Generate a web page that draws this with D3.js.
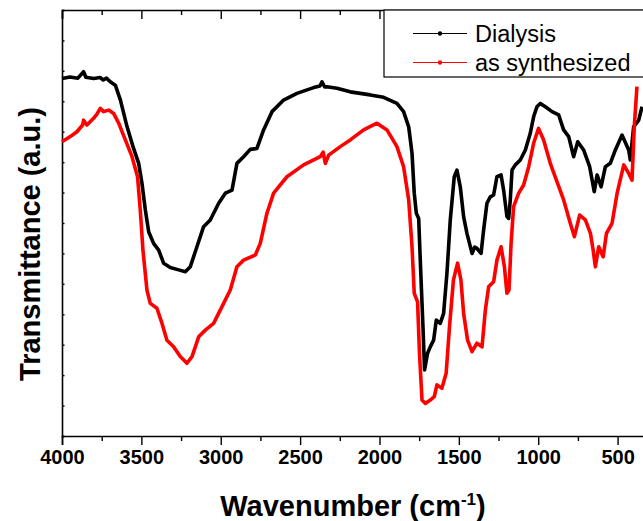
<!DOCTYPE html>
<html>
<head>
<meta charset="utf-8">
<script src="https://cdn.jsdelivr.net/npm/d3@7"></script>
<style>
  body { margin: 0; background: #fff; }
  svg { display: block; font-family: "Liberation Sans", Arial, sans-serif; }
</style>
</head>
<body>
<div id="chart-area"></div>
<script>
// FTIR spectra, transmittance in arbitrary units (0-140 scale)
const dialysisWn = [4000, 3950, 3900, 3864, 3850, 3800, 3760, 3740, 3720, 3696, 3664, 3632, 3590, 3549, 3517, 3496, 3475, 3454, 3423, 3391, 3360, 3318, 3265, 3223, 3192, 3150, 3108, 3066, 3013, 2971, 2929, 2898, 2856, 2814, 2772, 2730, 2677, 2604, 2520, 2415, 2375, 2362, 2345, 2331, 2268, 2184, 2058, 1974, 1890, 1848, 1816, 1795, 1781, 1768, 1753, 1743, 1726, 1716, 1697, 1680, 1659, 1642, 1617, 1596, 1575, 1554, 1529, 1512, 1491, 1470, 1449, 1417, 1400, 1386, 1360, 1344, 1323, 1302, 1281, 1260, 1234, 1218, 1197, 1186, 1176, 1165, 1144, 1113, 1081, 1050, 1029, 1008, 987, 955, 913, 871, 840, 808, 777, 751, 714, 676, 647, 629, 604, 577, 546, 514, 472, 430, 420, 399, 367, 346];
const dialysisT = [117.5, 118.0, 117.6, 119.7, 117.9, 117.5, 117.8, 117.0, 117.6, 116.4, 115.3, 110.4, 101.6, 94.5, 89.6, 83.0, 74.3, 67.1, 63.3, 61.1, 56.8, 55.4, 54.6, 54.0, 55.6, 62.2, 68.8, 71.0, 76.5, 79.8, 80.8, 89.6, 91.8, 94.2, 94.5, 100.6, 106.6, 110.4, 112.6, 114.5, 115.0, 116.4, 114.7, 114.8, 114.3, 113.1, 112.1, 111.3, 109.3, 106.6, 101.6, 92.9, 79.8, 73.2, 71.5, 57.8, 35.9, 21.7, 27.2, 29.3, 31.5, 38.1, 37.0, 40.3, 53.5, 71.0, 85.2, 87.4, 81.9, 72.1, 66.6, 60.0, 62.1, 61.7, 60.0, 67.7, 76.5, 78.6, 79.2, 85.2, 85.8, 80.8, 72.1, 71.5, 77.6, 87.4, 89.1, 90.7, 94.0, 99.5, 104.9, 108.2, 109.3, 108.2, 106.6, 105.5, 100.6, 98.4, 91.8, 96.7, 94.0, 88.5, 80.3, 85.8, 81.9, 88.5, 89.6, 94.0, 98.9, 94.0, 90.7, 101.6, 103.8, 108.2];

const synthWn = [4000, 3948, 3906, 3870, 3864, 3843, 3801, 3780, 3759, 3738, 3706, 3675, 3643, 3601, 3559, 3524, 3507, 3490, 3465, 3444, 3402, 3370, 3339, 3297, 3255, 3213, 3181, 3139, 3097, 3045, 2992, 2940, 2898, 2856, 2782, 2751, 2709, 2667, 2583, 2478, 2373, 2355, 2341, 2320, 2247, 2184, 2100, 2016, 1953, 1890, 1848, 1816, 1795, 1781, 1760, 1748, 1732, 1711, 1680, 1655, 1638, 1607, 1580, 1559, 1534, 1508, 1487, 1470, 1445, 1417, 1386, 1354, 1333, 1312, 1281, 1260, 1234, 1213, 1197, 1184, 1171, 1155, 1123, 1092, 1060, 1029, 998, 966, 924, 882, 840, 798, 772, 739, 703, 671, 654, 640, 619, 591, 570, 535, 503, 461, 430, 409, 395, 378];
const synthT = [96.7, 98.4, 100.0, 102.2, 103.8, 102.2, 104.4, 105.8, 107.7, 106.6, 107.1, 106.0, 102.8, 97.3, 91.8, 85.2, 74.3, 61.1, 48.0, 43.6, 42.0, 37.0, 31.5, 29.3, 26.1, 23.9, 26.1, 32.6, 34.8, 37.0, 42.5, 48.0, 55.6, 57.8, 59.5, 63.3, 73.2, 79.8, 85.2, 89.1, 91.8, 93.3, 89.6, 92.3, 95.1, 97.3, 100.6, 102.8, 100.6, 95.1, 88.5, 77.6, 62.2, 46.9, 44.1, 27.2, 11.8, 10.7, 11.8, 12.9, 16.8, 15.7, 20.6, 35.9, 51.3, 56.8, 51.3, 40.3, 31.5, 27.7, 30.5, 29.3, 41.4, 49.1, 50.7, 57.8, 62.2, 55.6, 46.9, 48.0, 63.3, 75.4, 79.8, 82.5, 88.5, 96.2, 101.1, 97.3, 89.6, 83.6, 77.6, 69.9, 65.5, 72.6, 71.0, 66.6, 61.1, 55.6, 62.2, 58.9, 66.6, 69.9, 79.8, 89.1, 86.3, 84.1, 101.6, 114.8];

const seriesNames = ["Dialysis", "as synthesized"];
const seriesColors = ["#000000", "#ff0000"];
const xTicks = [4000, 3500, 3000, 2500, 2000, 1500, 1000, 500];

const svgWidth = 643, svgHeight = 521;
const margin = {top: 10, left: 62, bottom: 85};
const height = svgHeight - margin.top - margin.bottom;

const svg = d3.select("#chart-area").append("svg")
    .attr("width", svgWidth)
    .attr("height", svgHeight);

const x = d3.scaleLinear().domain([4000, 320]).range([margin.left, margin.left + 3680 * 0.15874]);
const y = d3.scaleLinear().domain([0, 140]).range([margin.top + height, margin.top]);

const dialysis = dialysisWn.map((w, i) => ({wn: w, t: dialysisT[i]}));
const synth = synthWn.map((w, i) => ({wn: w, t: synthT[i]}));

const line = d3.line()
    .x((d) => x(d.wn))
    .y((d) => y(d.t))
    .curve(d3.curveLinear);

const minorTicks = d3.range(4000, 299, -250).filter((v) => v % 500 !== 0);

// bottom axis: major + minor ticks pointing outward
const bottomAxis = svg.append("g")
    .attr("transform", "translate(0," + (margin.top + height) + ")");
bottomAxis.call(d3.axisBottom(x).tickValues(xTicks).tickSize(9).tickPadding(5).tickFormat(d3.format("d")));
bottomAxis.append("g").call(d3.axisBottom(x).tickValues(minorTicks).tickSize(5).tickFormat(""))
    .select(".domain").remove();
bottomAxis.selectAll("text")
    .attr("font-size", 20).attr("font-weight", "bold").attr("fill", "#000")
    .attr("font-family", "Liberation Sans, Arial, sans-serif");

// top axis: mirrored ticks pointing inward
const topAxis = svg.append("g").attr("transform", "translate(0," + margin.top + ")");
topAxis.call(d3.axisTop(x).tickValues(xTicks).tickSize(-9).tickFormat(""));
topAxis.append("g").call(d3.axisTop(x).tickValues(minorTicks).tickSize(-5).tickFormat(""))
    .select(".domain").remove();

// left axis: short inward ticks, no labels
const leftAxis = svg.append("g").attr("transform", "translate(" + margin.left + ",0)");
leftAxis.call(d3.axisLeft(y).tickValues(d3.range(0, 141, 10)).tickSize(-2.5).tickFormat(""));

svg.selectAll(".domain").attr("stroke", "#000").attr("stroke-width", 1.6);
svg.selectAll(".tick line").attr("stroke", "#000").attr("stroke-width", 1.4);

// spectra
svg.append("path").datum(dialysis)
    .attr("fill", "none").attr("stroke", seriesColors[0])
    .attr("stroke-width", 3.6).attr("stroke-linejoin", "round")
    .attr("d", line);
svg.append("path").datum(synth)
    .attr("fill", "none").attr("stroke", seriesColors[1])
    .attr("stroke-width", 3.6).attr("stroke-linejoin", "round")
    .attr("d", line);

// legend
const legend = svg.append("g");
legend.append("rect")
    .attr("x", 384).attr("y", 10).attr("width", 280).attr("height", 67)
    .attr("fill", "#fff").attr("stroke", "#000").attr("stroke-width", 1.2);
seriesNames.forEach((name, i) => {
  const ly = 33.5 + i * 29;
  legend.append("line")
      .attr("x1", 413).attr("x2", 467).attr("y1", ly).attr("y2", ly)
      .attr("stroke", seriesColors[i]).attr("stroke-width", 1);
  legend.append("circle")
      .attr("cx", 440).attr("cy", ly).attr("r", 2.2)
      .attr("fill", seriesColors[i]);
  legend.append("text")
      .attr("x", 475).attr("y", ly + 8)
      .attr("font-size", 23.5).attr("fill", "#000")
      .text(name);
});

// axis titles
const xTitle = svg.append("text")
    .attr("x", 353).attr("y", 516)
    .attr("text-anchor", "middle")
    .attr("font-size", 29).attr("font-weight", "bold");
xTitle.append("tspan").text("Wavenumber (cm");
xTitle.append("tspan").attr("font-size", 17).attr("dy", -11).text("-1");
xTitle.append("tspan").attr("dy", 11).text(")");

svg.append("text")
    .attr("transform", "translate(40,244) rotate(-90)")
    .attr("text-anchor", "middle")
    .attr("font-size", 29).attr("font-weight", "bold")
    .text("Transmittance (a.u.)");
</script>
</body>
</html>
